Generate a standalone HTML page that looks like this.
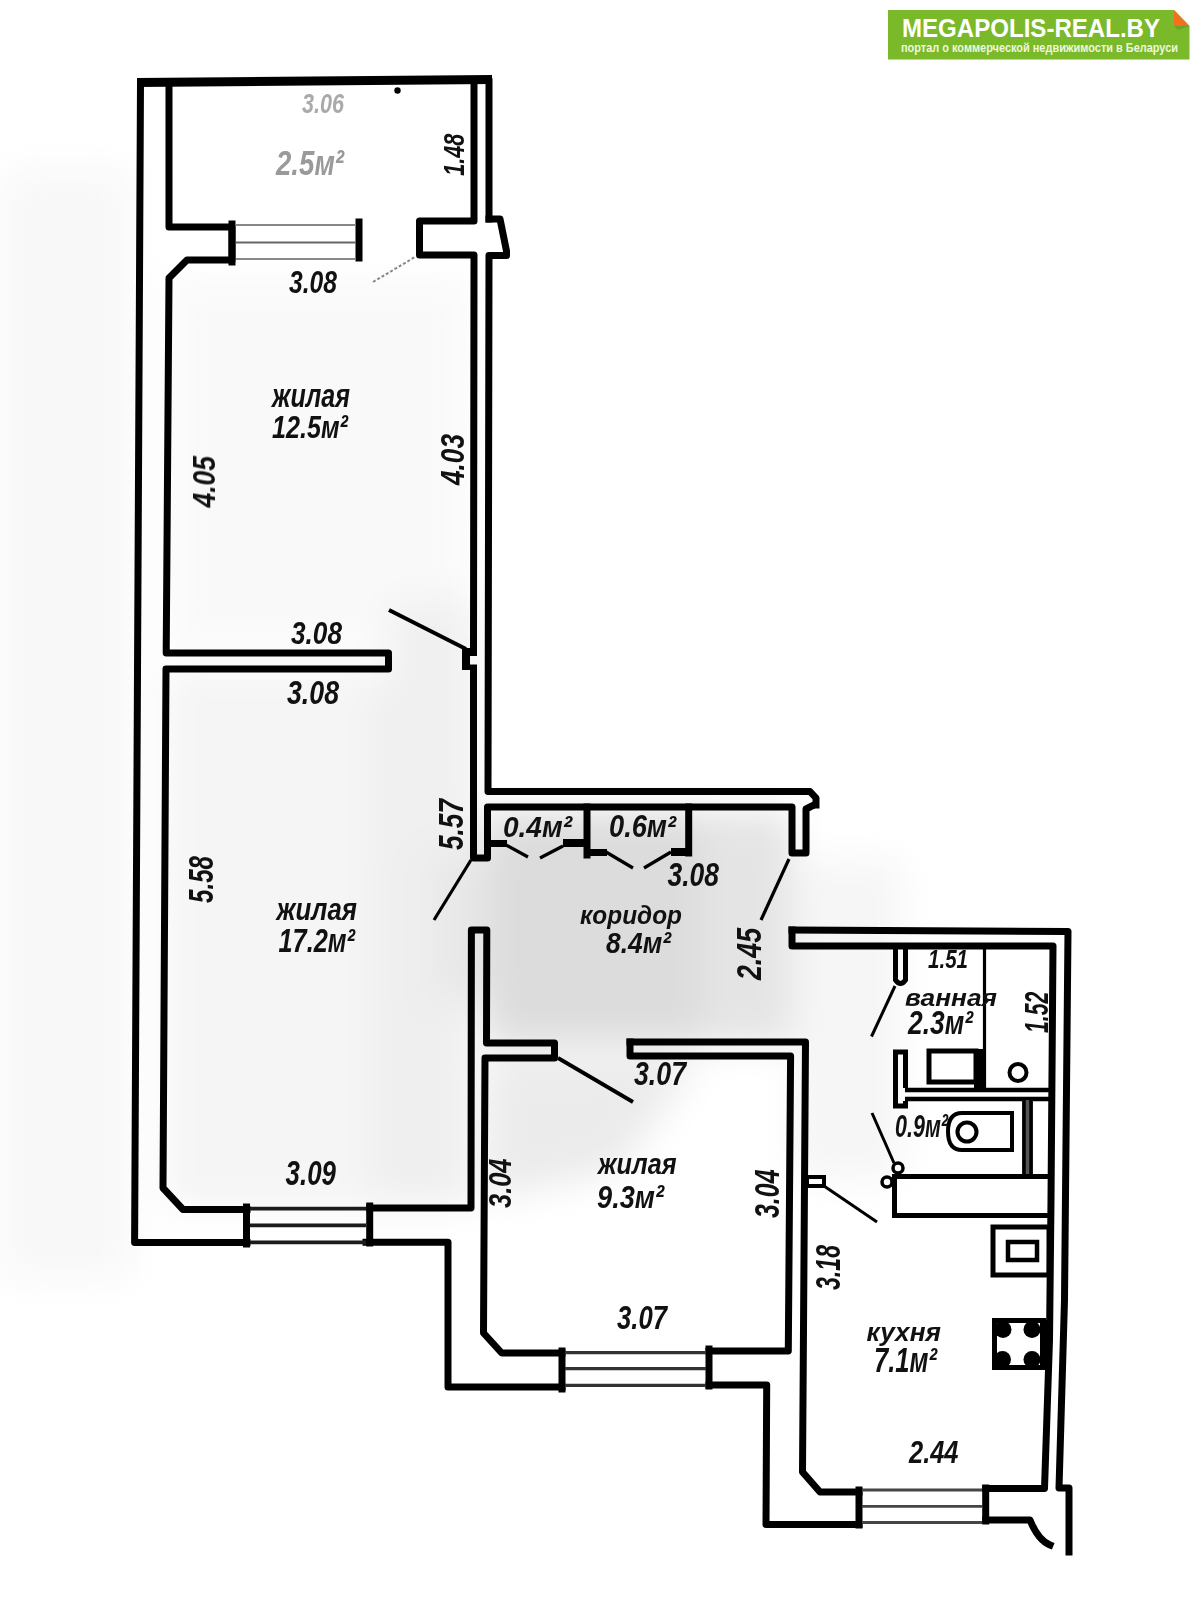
<!DOCTYPE html>
<html><head><meta charset="utf-8"><title>План квартиры</title>
<style>
html,body{margin:0;padding:0;background:#fff;width:1200px;height:1600px;overflow:hidden}
svg{display:block}
.w{fill:none;stroke:#000;stroke-width:7;stroke-linejoin:round;stroke-linecap:square}
.t{fill:none;stroke:#000;stroke-width:4;stroke-linecap:round}
.win{fill:none;stroke:#222;stroke-width:2.2}
.lb{font-family:"Liberation Sans",sans-serif;font-style:italic}
.lbl{font-family:"Liberation Sans",sans-serif;font-style:italic;font-weight:bold;fill:#111}
</style></head>
<body>
<svg width="1200" height="1600" viewBox="0 0 1200 1600">
<!-- GRAY -->
<defs>
<filter id="bl" x="-20%" y="-20%" width="140%" height="140%"><feGaussianBlur stdDeviation="18"/></filter>
<filter id="bl2" x="-20%" y="-20%" width="140%" height="140%"><feGaussianBlur stdDeviation="8"/></filter>
<filter id="soft" x="-5%" y="-5%" width="110%" height="110%"><feGaussianBlur stdDeviation="0.6"/></filter>
<clipPath id="gclip"><path d="M0 90 L490 90 L490 787 L960 787 L960 1320 L0 1320 Z"/></clipPath>
</defs>
<g id="gray" clip-path="url(#gclip)">
<g filter="url(#bl)">
<rect x="0" y="170" width="132" height="1110" fill="#f8f8f8"/>
<rect x="170" y="280" width="300" height="370" fill="#f9f9f9"/>
<rect x="166" y="669" width="305" height="540" fill="#f5f5f5"/>
<rect x="370" y="690" width="101" height="510" fill="#efefef"/>
<rect x="390" y="600" width="85" height="260" fill="#f0f0f0"/>
<path d="M430 850 L487 850 L487 1000 L430 1000 Z" fill="#e8e8e8"/>
<rect x="487" y="812" width="230" height="232" fill="#dcdcdc"/>
<rect x="700" y="812" width="92" height="232" fill="#e4e4e4"/>
<path d="M487 1058 L700 1058 L620 1170 L487 1200 Z" fill="#ebebeb"/>
<rect x="792" y="860" width="110" height="320" fill="#f6f6f6"/>
</g>
</g>
<!-- WALLS -->
<g id="walls" filter="url(#soft)">
<!-- outer left perimeter -->
<path class="w" d="M489 219 L489 79.5 L140.5 82.5 L134.6 1242.5 L247 1242.5"/>
<!-- top band thickening -->
<path d="M137 78 L492 75 L492 84 L137 87 Z" fill="#000"/>
<circle cx="397.5" cy="90.5" r="3.2" fill="#000"/>
<!-- bump right of balcony -->
<path class="w" d="M489 219 L500 219 L506.5 251 L506.5 255.5 L489 255.5 L488 791.5 L800 791.5"/>
<!-- balcony inner left + 12.5 room inner left -->
<path class="w" d="M169 86 L169 227 L232 227 L232 260 L187 260 L169 278 L166.2 653 L388.5 653 L388.5 669 L166 669 L163 1188 L183 1209.5 L247 1209.5"/>
<!-- balcony inner right, stub -->
<path class="w" d="M474 84 L474 221 L419.5 221 L419.5 255 L474 255 L473.5 650"/>
<path d="M462 648 L477 648 L477 656 L470 656 L470 670 L462 670 Z" fill="#000"/>
<path class="w" d="M473.5 668 L473.5 858 L487.5 858 L487.5 807 L792 807 L792 853 L806 853 L806 809 L814 805"/>
<path class="w" d="M800 791.5 L810 791.5 L816 798 L816 805"/>
<!-- closets -->
<path class="w" d="M587 807 L587 855"/>
<path class="w" d="M688.7 807 L688.7 853"/>
<path d="M490 840 L507 840 L507 847 L490 847 Z M563 839 L587 839 L587 847 L563 847 Z M590 849 L607 849 L607 856 L590 856 Z M671 848 L692 848 L692 856 L671 856 Z" fill="#000"/>
<!-- corridor left wall / 17.2 right wall -->
<path class="w" d="M369.7 1208 L471 1208 L471.4 930 L486.8 930 L486.5 1043 L554.5 1043 L554.5 1058 L485 1058 L483.5 1333 L501.7 1353 L562 1353"/>
<path class="w" d="M366 1242.3 L448 1242.3 L448 1387 L562 1387"/>
<!-- 9.3 room right -->
<path class="w" d="M630 1042 L805.5 1042 L802.5 1472 L820 1492 L859 1492"/>
<path class="w" d="M630 1042 L630 1056 L790.6 1056 L788.3 1351 L709 1351"/>
<path class="w" d="M709 1385 L766.7 1385 L766 1524.5 L859 1524.5"/>
<!-- kitchen right / bath -->
<path class="w" d="M792 930 L1068 931.5 L1064.5 1300 L1059 1488 L1069 1488 L1069 1552"/>
<path class="w" d="M792 930 L792 946 L1053 946 L1051 1200 L1049.5 1340 L1044.5 1488.5 L985.7 1488.5"/>
<path class="w" d="M985.7 1520 L1030 1520 Q1038 1540 1050 1545"/>
<!-- windows jambs -->
<path class="w" d="M232 224 L232 262 M359 222 L359 258 M246.5 1207 L246.5 1244 M369.7 1206 L369.7 1243 M562 1351 L562 1389 M709 1349 L709 1386 M859 1490 L859 1525 M985.7 1488 L985.7 1521"/>
<!-- window lines -->
<path d="M236 225 L356 225 M236 259 L356 259" fill="none" stroke="#888" stroke-width="2"/>
<path d="M236 242.5 L356 242.5" fill="none" stroke="#666" stroke-width="2.2"/>
<path d="M250 1208.7 L366 1208.7 M250 1225.3 L366 1225.3 M250 1242.3 L366 1242.3" fill="none" stroke="#1c1c1c" stroke-width="3.8"/>
<path d="M565 1352.7 L706 1352.7 M565 1368.7 L706 1368.7 M565 1385.3 L706 1385.3" fill="none" stroke="#333" stroke-width="3.2"/>
<path d="M862 1490 L982 1490 M862 1506.3 L982 1506.3 M862 1522.5 L982 1522.5" fill="none" stroke="#444" stroke-width="2.8"/>
</g>
<!-- BATH / KITCHEN FIXTURES -->
<g id="fix" filter="url(#soft)">
<path d="M895.5 948 L895.5 980 Q900.5 987 905.5 980 L905.5 948" fill="none" stroke="#000" stroke-width="5"/>
<path d="M905.5 1088 L905.5 1052 L895.5 1052 L895.5 1106 L905.5 1106 L905.5 1101" fill="none" stroke="#000" stroke-width="5"/>
<path d="M905 1090 L1050 1090 M905 1099 L1050 1099" fill="none" stroke="#000" stroke-width="4.5"/>
<path d="M984.5 948 L984.5 1088" fill="none" stroke="#000" stroke-width="3.2"/>
<rect x="929" y="1051" width="47" height="31" fill="none" stroke="#000" stroke-width="5"/>
<rect x="974" y="1049" width="11" height="39" fill="#000"/>
<circle cx="1018" cy="1072.5" r="8.5" fill="none" stroke="#000" stroke-width="4"/>
<path d="M1012 1113 L962 1113 Q948 1113 948 1131.5 Q948 1150 962 1150 L1012 1150 Z" fill="none" stroke="#000" stroke-width="4"/>
<circle cx="967" cy="1132" r="9.5" fill="none" stroke="#000" stroke-width="4"/>
<rect x="1022" y="1100" width="11" height="75" fill="#555"/>
<path d="M1024 1100 L1024 1175 M1031 1100 L1031 1175" stroke="#000" stroke-width="3.5"/>
<rect x="894.5" y="1176.5" width="156" height="39" fill="none" stroke="#000" stroke-width="5"/>
<circle cx="898" cy="1168" r="5" fill="none" stroke="#000" stroke-width="3.5"/>
<circle cx="887" cy="1182" r="5" fill="none" stroke="#000" stroke-width="3.5"/>
<rect x="993" y="1227" width="56" height="48" fill="none" stroke="#000" stroke-width="5"/>
<rect x="1008" y="1242" width="29" height="18" fill="none" stroke="#000" stroke-width="4.5"/>
<rect x="994.5" y="1320.5" width="49" height="47" fill="none" stroke="#000" stroke-width="5"/>
<circle cx="1003" cy="1329.5" r="8.5"/><circle cx="1032" cy="1329.5" r="8.5"/>
<circle cx="1002.5" cy="1359.5" r="8.5"/><circle cx="1032" cy="1359.5" r="8.5"/>
<rect x="1040" y="1320" width="8" height="48" fill="#000"/>
<rect x="807" y="1177" width="17" height="9" fill="none" stroke="#000" stroke-width="4"/>
</g>
<!-- DOORS -->
<g id="doors" fill="none" stroke="#000" filter="url(#soft)">
<path d="M389 610 L466 649" stroke-width="4"/>
<path d="M471 860 L434 920" stroke-width="3.2"/>
<path d="M373 282 L415 257" stroke="#888" stroke-width="2" stroke-dasharray="3 2"/>
<path d="M558 1058 L633 1102" stroke-width="3.8"/>
<path d="M789 859 L761 920" stroke-width="3.2"/>
<path d="M895 986 L871.5 1036.5" stroke-width="3"/>
<path d="M872 1113 L894 1163" stroke-width="3"/>
<path d="M824 1186 L877 1222" stroke-width="3"/>
<path d="M506 845 L528 857 M563 846 L540 858 M606 852 L633 868 M671 852 L644 868" stroke-width="3.2"/>
</g>
<g id="text" style="filter:grayscale(1)">
<text class="lb" x="289" y="292.5" font-size="30.7" textLength="48.0" lengthAdjust="spacingAndGlyphs" fill="#111" font-weight="bold">3.08</text>
<text class="lb" x="272" y="407" font-size="33.0" textLength="78.0" lengthAdjust="spacingAndGlyphs" fill="#111" font-weight="bold">жилая</text>
<text class="lb" x="272" y="438" font-size="32.1" textLength="76.0" lengthAdjust="spacingAndGlyphs" fill="#111" font-weight="bold">12.5м²</text>
<text class="lb" x="291" y="644" font-size="31.4" textLength="51.0" lengthAdjust="spacingAndGlyphs" fill="#111" font-weight="bold">3.08</text>
<text class="lb" x="287" y="704" font-size="32.9" textLength="52.0" lengthAdjust="spacingAndGlyphs" fill="#111" font-weight="bold">3.08</text>
<text class="lb" x="276.5" y="919.5" font-size="31.1" textLength="80.5" lengthAdjust="spacingAndGlyphs" fill="#111" font-weight="bold">жилая</text>
<text class="lb" x="278.5" y="952" font-size="32.9" textLength="76.5" lengthAdjust="spacingAndGlyphs" fill="#111" font-weight="bold">17.2м²</text>
<text class="lb" x="503" y="836.5" font-size="30.0" textLength="69.0" lengthAdjust="spacingAndGlyphs" fill="#111" font-weight="bold">0.4м²</text>
<text class="lb" x="609" y="837" font-size="30.7" textLength="67.0" lengthAdjust="spacingAndGlyphs" fill="#111" font-weight="bold">0.6м²</text>
<text class="lb" x="667.5" y="885.6" font-size="33.0" textLength="51.5" lengthAdjust="spacingAndGlyphs" fill="#111" font-weight="bold">3.08</text>
<text class="lb" x="580" y="924" font-size="26.4" textLength="102.0" lengthAdjust="spacingAndGlyphs" fill="#111" font-weight="bold">коридор</text>
<text class="lb" x="606" y="953" font-size="30.0" textLength="65.0" lengthAdjust="spacingAndGlyphs" fill="#111" font-weight="bold">8.4м²</text>
<text class="lb" x="928" y="968" font-size="25.7" textLength="40.0" lengthAdjust="spacingAndGlyphs" fill="#111" font-weight="bold">1.51</text>
<text class="lb" x="905" y="1006" font-size="24.5" textLength="92.0" lengthAdjust="spacingAndGlyphs" fill="#111" font-weight="bold">ванная</text>
<text class="lb" x="908" y="1034" font-size="32.9" textLength="65.0" lengthAdjust="spacingAndGlyphs" fill="#111" font-weight="bold">2.3м²</text>
<text class="lb" x="895" y="1137" font-size="31.4" textLength="53.0" lengthAdjust="spacingAndGlyphs" fill="#111" font-weight="bold">0.9м²</text>
<text class="lb" x="634" y="1085" font-size="32.9" textLength="52.0" lengthAdjust="spacingAndGlyphs" fill="#111" font-weight="bold">3.07</text>
<text class="lb" x="598" y="1174" font-size="30.2" textLength="78.5" lengthAdjust="spacingAndGlyphs" fill="#111" font-weight="bold">жилая</text>
<text class="lb" x="597" y="1208" font-size="31.4" textLength="67.0" lengthAdjust="spacingAndGlyphs" fill="#111" font-weight="bold">9.3м²</text>
<text class="lb" x="285.6" y="1185" font-size="34.3" textLength="50.4" lengthAdjust="spacingAndGlyphs" fill="#111" font-weight="bold">3.09</text>
<text class="lb" x="617" y="1329" font-size="32.9" textLength="50.0" lengthAdjust="spacingAndGlyphs" fill="#111" font-weight="bold">3.07</text>
<text class="lb" x="866.6" y="1340.5" font-size="25.5" textLength="74.4" lengthAdjust="spacingAndGlyphs" fill="#111" font-weight="bold">кухня</text>
<text class="lb" x="874" y="1372" font-size="34.3" textLength="63.0" lengthAdjust="spacingAndGlyphs" fill="#111" font-weight="bold">7.1м²</text>
<text class="lb" x="909" y="1463" font-size="30.7" textLength="49.5" lengthAdjust="spacingAndGlyphs" fill="#111" font-weight="bold">2.44</text>
<text class="lb" x="302" y="113" font-size="27.1" textLength="42.0" lengthAdjust="spacingAndGlyphs" fill="#aaa" font-weight="bold">3.06</text>
<text class="lb" x="276" y="175" font-size="35.7" textLength="68.0" lengthAdjust="spacingAndGlyphs" fill="#9a9a9a" font-weight="bold">2.5м²</text>
<text class="lb" transform="translate(463.7,175.8) rotate(-90)" x="0" y="0" font-size="30.1" textLength="42.2" lengthAdjust="spacingAndGlyphs" fill="#111" font-weight="bold">1.48</text>
<text class="lb" transform="translate(215,507.5) rotate(-90)" x="0" y="0" font-size="32.1" textLength="51.5" lengthAdjust="spacingAndGlyphs" fill="#111" font-weight="bold">4.05</text>
<text class="lb" transform="translate(464,485) rotate(-90)" x="0" y="0" font-size="32.9" textLength="51.0" lengthAdjust="spacingAndGlyphs" fill="#111" font-weight="bold">4.03</text>
<text class="lb" transform="translate(213,903) rotate(-90)" x="0" y="0" font-size="34.3" textLength="47.0" lengthAdjust="spacingAndGlyphs" fill="#111" font-weight="bold">5.58</text>
<text class="lb" transform="translate(462.7,850) rotate(-90)" x="0" y="0" font-size="35.7" textLength="51.0" lengthAdjust="spacingAndGlyphs" fill="#111" font-weight="bold">5.57</text>
<text class="lb" transform="translate(761,980) rotate(-90)" x="0" y="0" font-size="35.7" textLength="52.0" lengthAdjust="spacingAndGlyphs" fill="#111" font-weight="bold">2.45</text>
<text class="lb" transform="translate(1048,1033) rotate(-90)" x="0" y="0" font-size="32.9" textLength="41.3" lengthAdjust="spacingAndGlyphs" fill="#111" font-weight="bold">1.52</text>
<text class="lb" transform="translate(510.5,1208) rotate(-90)" x="0" y="0" font-size="32.1" textLength="49.5" lengthAdjust="spacingAndGlyphs" fill="#111" font-weight="bold">3.04</text>
<text class="lb" transform="translate(779,1218) rotate(-90)" x="0" y="0" font-size="34.3" textLength="48.5" lengthAdjust="spacingAndGlyphs" fill="#111" font-weight="bold">3.04</text>
<text class="lb" transform="translate(840.4,1290) rotate(-90)" x="0" y="0" font-size="35.4" textLength="45.0" lengthAdjust="spacingAndGlyphs" fill="#111" font-weight="bold">3.18</text>
</g><!--/text-->
<!-- LOGO -->
<g id="logo">
<path d="M888 10 L1174 10 L1189.5 26 L1189.5 59.5 L888 59.5 Z" fill="#7ab929"/>
<path d="M1174 26 L1189.5 26 L1178 30 Z" fill="#69a523"/>
<path d="M1174 10 L1189.5 26 L1174 26 Z" fill="#f37021"/>
<text x="902" y="36.5" font-family="Liberation Sans" font-weight="bold" font-size="26.5" fill="#fff" textLength="258" lengthAdjust="spacingAndGlyphs">MEGAPOLIS-REAL.BY</text>
<text x="901" y="51.5" font-family="Liberation Sans" font-weight="bold" font-size="13.6" fill="#eef7dc" textLength="277" lengthAdjust="spacingAndGlyphs">портал о коммерческой недвижимости в Беларуси</text>
</g>
</svg>
</body></html>
